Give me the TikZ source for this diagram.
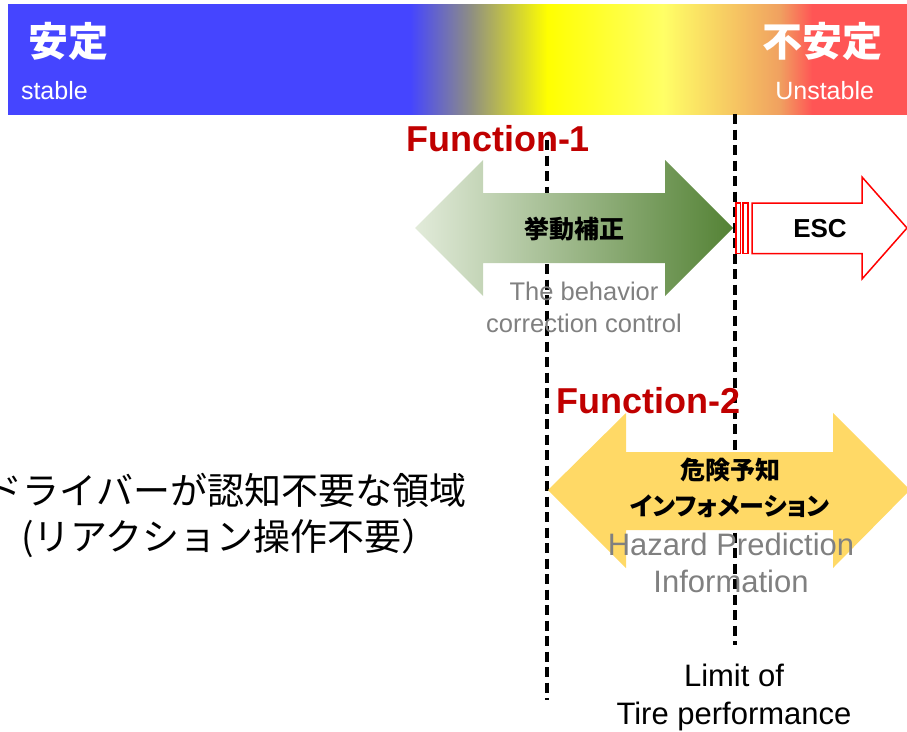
\documentclass[tikz,border=0pt]{standalone}
\usepackage{fontspec}
\setmainfont{Liberation Sans}
\newfontfamily\jp[RawFeature=+palt]{Noto Sans CJK JP}
\newfontfamily\jpf{Noto Sans CJK JP}
\definecolor{cblue}{HTML}{4545FF}
\definecolor{cgray}{HTML}{909080}
\definecolor{cyel}{HTML}{FFFF00}
\definecolor{cyel2}{HTML}{FFFF66}
\definecolor{corange}{HTML}{F0A060}
\definecolor{cred}{HTML}{FF5555}
\definecolor{gleft}{HTML}{E2EBDA}
\definecolor{gright}{HTML}{548235}
\definecolor{gold}{HTML}{FFD966}
\definecolor{txtgray}{HTML}{808080}
\definecolor{fred}{HTML}{C00000}
\tikzset{
  dashline/.style={line width=3.3pt, dash pattern=on 10pt off 5.5pt},
  plain/.style={inner sep=0pt, outer sep=0pt},
  functxt/.style={plain, text=fred, font=\bfseries\fontsize{36}{40}\selectfont},
  graytxt/.style={plain, text=txtgray, align=center},
}
\begin{document}
\begin{tikzpicture}[x=1pt,y=-1pt]
\useasboundingbox (0,0) rectangle (907,731);
% top gradient bar
\begin{scope}
\clip (8,4) rectangle (907,114);
\fill[cblue] (6,2) rectangle (410.5,116);
\shade[left color=cblue,right color=cgray] (410,2) rectangle (472.5,116);
\shade[left color=cgray,right color=cyel] (472,2) rectangle (547.5,116);
\shade[left color=cyel,right color=cyel2] (547,2) rectangle (663.5,116);
\shade[left color=cyel2,right color=corange] (663,2) rectangle (780.5,116);
\shade[left color=corange,right color=cred] (780,2) rectangle (812.5,116);
\fill[cred] (812,2) rectangle (909,116);
\end{scope}
\node[plain, white, anchor=west, font=\jp\bfseries\fontsize{40}{44}\selectfont] (antei) at (28,41) {安定};
\node[plain, white, anchor=east, font=\jp\bfseries\fontsize{40}{44}\selectfont] (fuantei) at (882,41) {不安定};
\node[plain, white, anchor=west, font=\fontsize{25}{28}\selectfont] (stable) at (21,91) {stable};
\node[plain, white, anchor=east, font=\fontsize{25}{28}\selectfont] (unstable) at (874,91) {Unstable};
% dashed limit lines
\coordinate (d1t) at (547,140); \coordinate (d1b) at (547,700);
\coordinate (d2t) at (735,114); \coordinate (d2b) at (735,645);
\draw[dashline] (d1t) -- (d1b);
\draw[dashline] (d2t) -- (d2b);
% green double arrow
\shade[left color=gleft, right color=gright]
  (415,228) -- (483,160) -- (483,193) -- (665,193) -- (665,160) -- (733,228)
  -- (665,296) -- (665,263) -- (483,263) -- (483,296) -- cycle;
% ESC arrow
\draw[red, line width=1.5pt, fill=white] (736,203) rectangle (740.5,253.5);
\draw[red, line width=1.5pt, fill=white] (743,203) rectangle (748,253.5);
\draw[red, line width=1.5pt, fill=white, line join=miter]
  (752,203) -- (862,203) -- (862,177) -- (907,228) -- (862,279) -- (862,253.5) -- (752,253.5) -- cycle;
% yellow double arrow
\fill[gold]
  (548,490) -- (626,413) -- (626,452) -- (833,452) -- (833,413) -- (910,490)
  -- (833,568) -- (833,530) -- (626,530) -- (626,568) -- cycle;
% texts
\node[functxt] (f1) at (498,139) {Function-1};
\node[functxt] (f2) at (648,401) {Function-2};
\node[plain, font=\jp\bfseries\fontsize{25}{30}\selectfont] (kyodo) at (574,229) {挙動補正};
\node[plain, font=\bfseries\fontsize{26}{30}\selectfont] (esc) at (820,229) {ESC};
\node[graytxt, font=\fontsize{25.5}{32}\selectfont] (behav) at (584,307) {The behavior\\correction control};
\node[plain, align=center, font=\jp\bfseries\fontsize{25}{36}\selectfont] (kiken) at (730,488) {危険予知\\インフォメーション};
\node[graytxt, font=\fontsize{31}{37}\selectfont] (hazard) at (731,563) {Hazard Prediction\\Information};
\node[plain, align=center, font=\fontsize{31}{38}\selectfont] (limit) at (734,697) {Limit of\\Tire performance};
\node[plain, anchor=east, font=\jpf\fontsize{37}{40}\selectfont] (driver1) at (466,490) {ドライバーが認知不要な領域};
\node[plain, anchor=west, font=\jpf\fontsize{37}{40}\selectfont] (driver2) at (21,538) {(リアクション操作不要）};
\end{tikzpicture}
\end{document}
